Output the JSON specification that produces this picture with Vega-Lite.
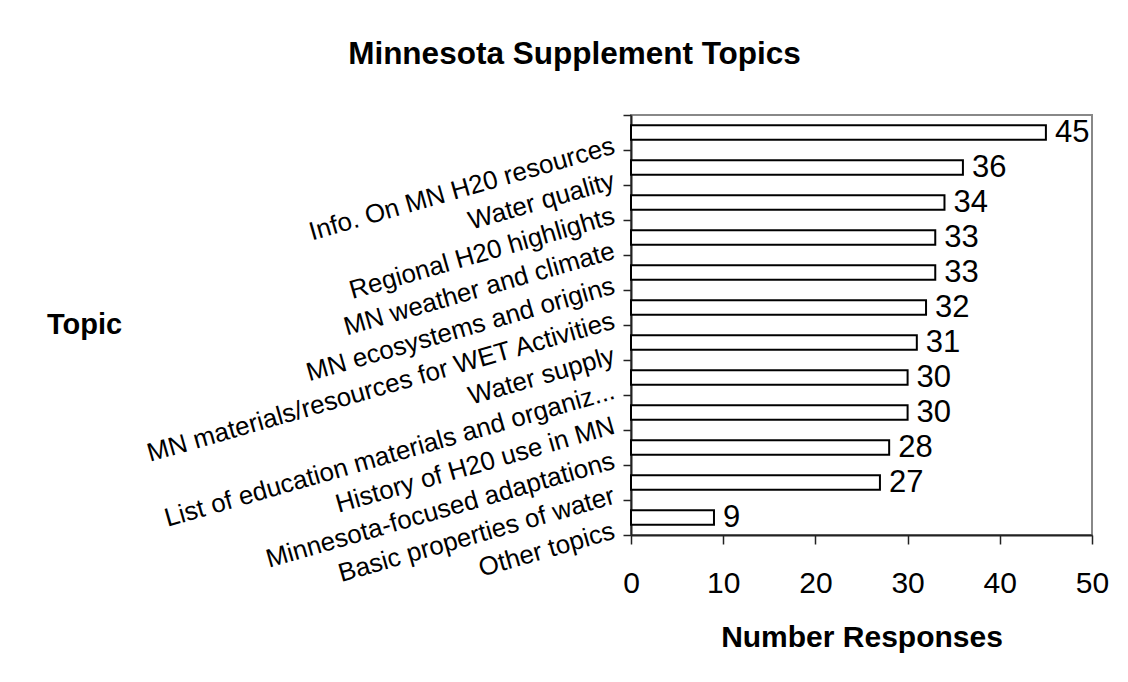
{
  "$schema": "https://vega.github.io/schema/vega-lite/v6.json",
  "autosize": {"type": "none"},
  "padding": {"left": 631, "top": 115, "right": 36, "bottom": 147},
  "width": 461,
  "height": 420,
  "background": "white",
  "config": {
    "font": "Liberation Sans",
    "view": {"stroke": "#888888", "strokeWidth": 2},
    "axis": {"grid": false, "domainColor": "#222222", "domainWidth": 2, "tickColor": "#222222", "tickWidth": 1.5, "labelColor": "#000000", "titleColor": "#000000"}
  },
  "title": {
    "text": "Minnesota Supplement Topics",
    "fontSize": 31.5,
    "fontWeight": "bold",
    "color": "#000000",
    "frame": "group",
    "anchor": "middle",
    "dx": -287,
    "baseline": "alphabetic",
    "offset": 19
  },
  "data": {
    "values": [
      {"topic": "Info. On MN H20 resources", "n": 45},
      {"topic": "Water quality", "n": 36},
      {"topic": "Regional H20 highlights", "n": 34},
      {"topic": "MN weather and climate", "n": 33},
      {"topic": "MN ecosystems and origins", "n": 33},
      {"topic": "MN materials/resources for WET Activities", "n": 32},
      {"topic": "Water supply", "n": 31},
      {"topic": "List of education materials and organiz...", "n": 30},
      {"topic": "History of H20 use in MN", "n": 30},
      {"topic": "Minnesota-focused adaptations", "n": 28},
      {"topic": "Basic properties of water", "n": 27},
      {"topic": "Other topics", "n": 9}
    ]
  },
  "encoding": {
    "y": {
      "field": "topic",
      "type": "nominal",
      "sort": null,
      "scale": {"paddingInner": 0, "paddingOuter": 0},
      "axis": {
        "title": "Topic",
        "titleFontSize": 29,
        "titleFontWeight": "bold",
        "titleAngle": 0,
        "titleAlign": "center",
        "titleBaseline": "middle",
        "titleX": -547,
        "titleY": 209,
        "tickBand": "extent",
        "tickSize": 8,
        "labelFontSize": 26,
        "labelAngle": -16,
        "labelAlign": "right",
        "labelBaseline": "top",
        "labelPadding": 13,
        "labelLimit": 0,
        "labelOverlap": false
      }
    },
    "x": {
      "field": "n",
      "type": "quantitative",
      "scale": {"domain": [0, 50], "nice": false},
      "axis": {
        "title": "Number Responses",
        "titleFontSize": 30,
        "titleFontWeight": "bold",
        "titleBaseline": "alphabetic",
        "titleY": 111,
        "values": [0, 10, 20, 30, 40, 50],
        "tickSize": 9,
        "labelFontSize": 30,
        "labelBaseline": "alphabetic",
        "labelPadding": 48,
        "labelFlush": false
      }
    }
  },
  "layer": [
    {
      "mark": {"type": "bar", "fill": "white", "stroke": "black", "strokeWidth": 2, "height": {"band": 0.42}}
    },
    {
      "mark": {"type": "text", "align": "left", "baseline": "middle", "dx": 9, "fontSize": 31, "color": "black"},
      "encoding": {"text": {"field": "n", "type": "quantitative"}}
    }
  ]
}
